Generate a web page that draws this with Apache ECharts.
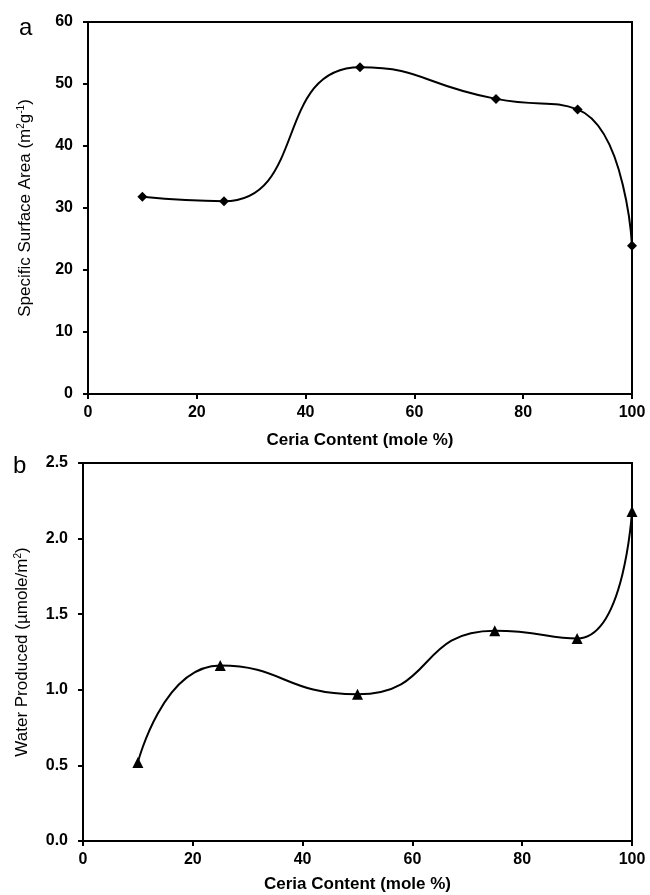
<!DOCTYPE html>
<html>
<head>
<meta charset="utf-8">
<script src="https://cdn.jsdelivr.net/npm/echarts@6/dist/echarts.min.js"></script>
<style>
  html, body { margin: 0; padding: 0; background: #fff; }
  #chart { width: 650px; height: 895px; }
</style>
</head>
<body>
<div id="chart"></div>
<script>
  // 数据
  var ceria = [10, 25, 50, 75, 90, 100]
  var surfaceArea = [31.8, 31.1, 52.7, 47.6, 45.9, 23.9]
  var waterProduced = [0.52, 1.16, 0.97, 1.39, 1.34, 2.18]

  var font = 'Liberation Sans, Arial, sans-serif'

  function pairs(xs, ys) {
    return xs.map(function (x, i) { return [x, ys[i]] })
  }

  var labelStyle = {
    color: '#000',
    fontFamily: font,
    fontSize: 16,
    fontWeight: 'bold'
  }

  var supStyle = { fontSize: 10, fontFamily: font, color: '#000', verticalAlign: 'top', padding: [0, 0, 8, 0] }

  function xAxis(gridIndex, gap) {
    return {
      type: 'value',
      gridIndex: gridIndex,
      min: 0,
      max: 100,
      interval: 20,
      name: 'Ceria Content (mole %)',
      nameLocation: 'middle',
      nameGap: gap,
      nameTextStyle: { color: '#000', fontFamily: font, fontSize: 17, fontWeight: 'bold' },
      axisLine: { show: true, lineStyle: { color: '#000', width: 2 } },
      axisTick: { show: true, length: 5, lineStyle: { color: '#000', width: 2 } },
      axisLabel: Object.assign({ margin: 11 }, labelStyle),
      splitLine: { show: false }
    }
  }

  var myChart = echarts.init(document.getElementById('chart'))

  var option = {
    animation: false,
    backgroundColor: '#fff',
    title: [{
      text: 'a',
      left: 14,
      top: 11,
      textStyle: { fontFamily: font, fontSize: 24, fontWeight: 'normal', color: '#000' }
    }, {
      text: 'b',
      left: 8,
      top: 449,
      textStyle: { fontFamily: font, fontSize: 24, fontWeight: 'normal', color: '#000' }
    }],
    grid: [{
      left: 88,
      right: 18,
      top: 22,
      height: 372,
      show: true,
      borderColor: '#000',
      borderWidth: 2
    }, {
      left: 83,
      right: 18,
      top: 463,
      height: 378,
      show: true,
      borderColor: '#000',
      borderWidth: 2
    }],
    xAxis: [xAxis(0, 38), xAxis(1, 35)],
    yAxis: [{
      type: 'value',
      gridIndex: 0,
      min: 0,
      max: 60,
      interval: 10,
      name: 'Specific Surface Area (m{sup|2}g{sup|-1})',
      nameLocation: 'middle',
      nameGap: 54,
      nameTextStyle: {
        color: '#000', fontFamily: font, fontSize: 17,
        rich: { sup: supStyle }
      },
      axisLine: { show: true, lineStyle: { color: '#000', width: 2 } },
      axisTick: { show: true, length: 5, lineStyle: { color: '#000', width: 2 } },
      axisLabel: Object.assign({ margin: 15 }, labelStyle),
      splitLine: { show: false }
    }, {
      type: 'value',
      gridIndex: 1,
      min: 0,
      max: 2.5,
      interval: 0.5,
      name: 'Water Produced (\u00b5mole/m{sup|2})',
      nameLocation: 'middle',
      nameGap: 52,
      nameTextStyle: {
        color: '#000', fontFamily: font, fontSize: 17,
        rich: { sup: supStyle }
      },
      axisLine: { show: true, lineStyle: { color: '#000', width: 2 } },
      axisTick: { show: true, length: 5, lineStyle: { color: '#000', width: 2 } },
      axisLabel: Object.assign({
        margin: 15,
        formatter: function (v) { return v.toFixed(1) }
      }, labelStyle),
      splitLine: { show: false }
    }],
    series: [{
      type: 'line',
      xAxisIndex: 0,
      yAxisIndex: 0,
      data: pairs(ceria, surfaceArea),
      smooth: 0.55,
      symbol: 'diamond',
      symbolSize: 10,
      itemStyle: { color: '#000' },
      lineStyle: { color: '#000', width: 2 }
    }, {
      type: 'line',
      xAxisIndex: 1,
      yAxisIndex: 1,
      data: pairs(ceria, waterProduced),
      smooth: 0.55,
      symbol: 'triangle',
      symbolSize: 11,
      itemStyle: { color: '#000' },
      lineStyle: { color: '#000', width: 2 }
    }]
  }

  myChart.setOption(option)
</script>
</body>
</html>
